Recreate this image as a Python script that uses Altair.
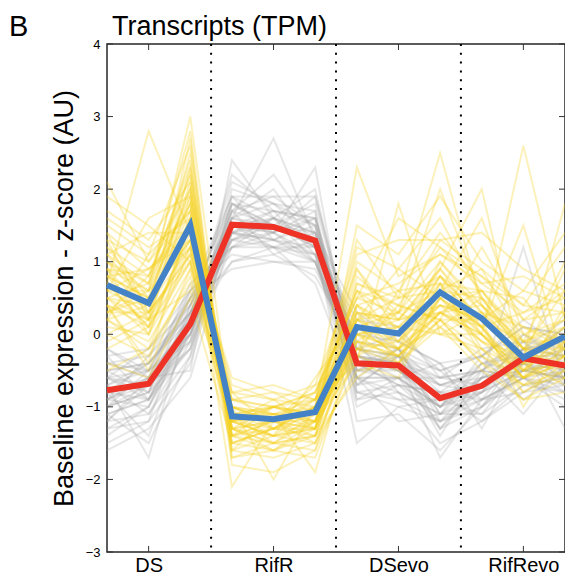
import altair as alt
import pandas as pd

# ---------------- data ----------------
groups = ["DS", "RifR", "DSevo", "RifRevo"]
samples_per_group = 3
group_centres = [1, 4, 7, 10]          # sample index under each group label
group_bounds = [2.5, 5.5, 8.5]         # dotted separators between groups
y_ticks = [-3, -2, -1, 0, 1, 2, 3, 4]

blue_mean = [0.68, 0.43, 1.50, -1.13, -1.17, -1.07, 0.10, 0.01, 0.58, 0.22, -0.32, -0.03]
red_mean = [-0.77, -0.68, 0.14, 1.51, 1.48, 1.29, -0.40, -0.43, -0.88, -0.71, -0.33, -0.43]

yellow_lines = [
    [0.9, 0.6, 1.8, -1.2, -1.3, -1.0, 0.2, -0.1, 0.5, 0.1, -0.5, 0.0],
    [0.4, 0.2, 1.3, -1.0, -1.1, -1.2, 0.3, 0.2, 0.8, 0.4, -0.2, -0.3],
    [1.2, 0.8, 2.2, -1.4, -1.3, -1.3, -0.1, -0.3, 0.3, -0.1, -0.6, -0.2],
    [0.6, 0.3, 1.1, -0.9, -1.0, -0.8, 0.5, 0.3, 1.0, 0.4, -0.1, 0.1],
    [1.5, 1.1, 2.6, -1.5, -1.6, -1.4, -0.2, -0.3, 0.2, -0.2, -0.7, -0.5],
    [0.2, -0.1, 0.9, -1.1, -1.2, -0.9, 0.6, 0.4, 1.2, 0.6, 0.0, 0.2],
    [2.1, 1.0, 1.7, -1.3, -1.0, -1.1, -0.2, -0.4, 0.1, -0.3, -0.6, -0.4],
    [0.7, 2.8, 1.4, -1.2, -1.4, -1.2, 0.0, -0.2, 0.3, 0.0, -0.6, -0.3],
    [0.3, 0.6, 3.0, -1.2, -1.0, -1.2, 0.1, -0.3, 0.5, 0.0, -0.5, -0.4],
    [0.0, -0.3, 0.8, -1.3, -1.5, -1.1, 1.0, 0.6, 1.4, 0.7, 0.3, 0.5],
    [1.0, 0.4, 1.6, -0.8, -0.9, -0.7, -0.3, 0.0, 0.4, 0.2, -0.4, -0.2],
    [0.5, 0.7, 1.9, -1.7, -1.5, -1.6, 0.2, 0.3, 0.6, 0.5, -0.3, 0.1],
    [1.3, 0.2, 1.2, -1.0, -1.2, -1.3, 0.4, -0.2, 0.7, 0.2, -0.1, -0.1],
    [-0.4, -0.6, 0.5, -1.5, -1.3, -1.0, 2.3, 0.8, 1.1, 0.8, 0.2, 0.6],
    [0.8, 0.5, 2.0, -1.1, -1.1, -0.9, -0.4, 1.8, 0.0, 0.3, -0.2, -0.2],
    [0.1, 0.0, 1.0, -1.4, -1.6, -1.3, 0.7, 0.5, 2.5, 0.4, -0.4, 0.0],
    [0.6, 0.9, 1.5, -2.1, -1.2, -1.4, 0.3, 0.2, 0.9, 2.0, -0.5, 0.3],
    [0.4, 0.1, 1.1, -1.0, -2.0, -1.0, 0.0, 0.1, 0.6, 0.0, 2.6, 0.2],
    [0.9, 0.3, 1.6, -1.2, -1.1, -1.9, 0.1, -0.1, 0.4, 0.3, -0.3, 1.8],
    [1.1, 0.7, 2.4, -1.6, -1.4, -1.5, -0.5, -0.4, 0.2, -0.4, -0.9, -0.8],
    [0.3, 0.5, 1.3, -0.7, -0.9, -1.0, 0.4, 0.6, 0.7, 0.6, -0.2, -0.6],
    [0.7, 0.1, 1.4, -1.3, -1.4, -0.6, 0.2, 0.0, 0.9, 0.1, -0.6, 0.4],
    [1.7, 1.3, 2.1, -1.1, -1.0, -1.2, -0.1, -0.2, 0.1, -0.5, -0.9, -0.6],
    [0.2, -0.2, 0.7, -0.9, -1.1, -1.1, 0.8, 0.3, 1.3, 0.9, 0.4, 0.3],
    [0.5, 0.4, 1.7, -1.3, -1.2, -1.2, -0.2, 0.4, 0.2, 0.2, -1.0, -0.1],
    [1.0, 0.6, 1.2, -0.6, -0.8, -0.9, 0.6, -0.1, 0.8, 0.0, -0.4, 0.1],
    [0.8, 0.2, 2.7, -1.8, -1.9, -1.6, -0.3, -0.5, 0.5, 0.1, -0.8, -0.4],
    [-0.2, 0.1, 1.0, -1.2, -1.0, -1.1, 1.2, 0.9, 1.6, 0.5, 0.1, -0.1],
    [0.6, 1.6, 1.9, -1.0, -1.3, -0.9, -0.1, -0.3, 0.3, 0.4, -0.2, -0.5],
    [1.4, 0.9, 1.4, -1.4, -1.5, -1.4, 0.3, 0.1, 0.0, -0.2, -0.5, 0.0],
    [0.4, -0.4, 1.6, -1.1, -1.0, -0.8, 0.5, 0.7, 1.1, 0.7, 0.8, 0.5],
    [0.9, 0.8, 2.3, -1.5, -1.3, -1.4, -0.6, -0.2, 0.4, -0.1, -0.4, -0.7],
    [0.3, 0.3, 1.1, -0.8, -1.3, -1.0, 0.2, 0.5, 0.6, 0.9, -0.1, 1.0],
    [1.1, 0.4, 1.8, -1.2, -0.9, -1.3, 0.0, -0.4, 0.7, -0.3, -0.7, -0.3],
    [0.5, 0.0, 1.5, -1.0, -1.2, -0.7, 0.9, 0.2, 0.3, 0.6, 0.5, -0.2],
    [0.8, 0.5, 2.0, -1.3, -1.6, -1.2, -0.4, -0.6, 0.6, 0.1, -0.6, -0.4],
    [1.6, 1.2, 1.6, -1.1, -1.3, -1.2, 0.4, 0.1, 0.3, 0.0, -0.6, -0.3],
    [0.0, 0.3, 2.1, -1.4, -1.2, -1.0, 0.6, 0.2, 0.9, 0.3, 0.1, -0.2],
    [1.9, 1.5, 1.0, -1.2, -1.1, -1.3, 0.1, -0.3, 0.2, -0.4, -0.7, -0.6],
    [-0.5, -0.2, 1.2, -1.2, -1.4, -1.3, 1.5, 1.1, 1.9, 1.0, 0.6, 0.4],
    [0.7, 0.4, 2.5, -1.6, -1.7, -1.5, 0.0, 0.2, 0.4, 0.2, -0.3, 0.0],
    [1.2, 0.5, 1.3, -0.9, -0.8, -1.1, -0.3, 0.6, 0.1, 0.5, -0.2, 0.6],
    [0.3, 0.8, 1.8, -1.3, -1.5, -1.4, 0.2, -0.2, 1.0, 0.3, -0.5, -0.1],
    [0.9, 0.0, 1.5, -1.0, -1.1, -1.2, 0.7, 0.4, 0.2, 1.2, 0.2, 0.3],
    [0.6, 0.6, 2.2, -1.4, -1.2, -1.3, 0.0, 0.1, 0.7, -0.2, -0.8, -0.5],
    [1.4, 0.3, 1.0, -0.9, -1.0, -0.9, 0.2, 0.9, 0.5, 0.6, -0.1, 0.2],
    [0.2, 1.1, 1.7, -1.5, -1.3, -1.1, 0.9, 0.0, 0.6, 0.1, 0.3, 0.7],
    [1.0, 0.7, 2.8, -1.7, -1.6, -1.7, -0.2, -0.1, 0.8, 0.2, -0.4, -0.3],
    [0.4, -0.5, 0.9, -0.8, -0.7, -0.9, 1.1, 1.3, 1.3, 1.4, 0.9, 0.6],
    [0.8, 0.9, 1.3, -1.1, -1.4, -1.0, 0.3, -0.4, 0.5, -0.1, -0.3, 0.9],
    [1.3, 1.0, 2.0, -1.3, -1.2, -1.5, -0.1, 0.3, 0.0, 0.0, -0.6, -0.1],
    [-0.1, 0.2, 0.6, -1.0, -1.2, -0.8, 0.5, 1.6, 1.2, 0.8, 0.4, 1.2],
    [0.5, 0.2, 1.9, -1.1, -1.5, -1.2, 0.1, 0.3, 2.0, 0.5, -0.2, 0.0],
    [1.1, 1.4, 1.4, -1.4, -1.0, -1.1, 0.0, -0.2, 0.3, 0.1, 1.5, -0.4],
    [0.7, 0.1, 2.3, -1.2, -1.4, -1.3, 0.4, 0.0, 0.6, 1.6, 0.0, -0.2],
    [0.2, 0.4, 1.2, -1.6, -1.1, -1.0, 1.3, 0.5, 0.8, 0.2, 0.6, 1.4],
]

gray_lines = [
    [-0.8, -0.7, 0.2, 1.6, 1.5, 1.3, -0.4, -0.5, -0.9, -0.7, -0.3, -0.4],
    [-0.5, -0.4, 0.4, 1.3, 1.2, 1.1, -0.6, -0.6, -1.0, -0.8, -0.5, -0.6],
    [-1.1, -0.9, -0.2, 1.8, 1.7, 1.6, -0.2, -0.3, -0.7, -0.5, -0.1, -0.2],
    [-0.6, -0.8, 0.5, 1.4, 1.6, 1.2, -0.5, -0.2, -1.1, -0.9, -0.6, -0.5],
    [-1.0, -0.5, -0.1, 2.0, 1.8, 1.7, -0.7, -0.6, -1.3, -1.0, -0.6, -0.8],
    [-0.3, -0.2, 0.6, 1.1, 1.0, 0.9, -0.3, -0.4, -0.6, -0.5, -0.2, -0.3],
    [-1.4, -1.0, 0.0, 1.7, 2.2, 1.4, -0.1, -0.2, -0.5, -0.3, 0.1, 0.0],
    [-0.7, -1.7, 0.3, 1.5, 1.3, 1.6, -0.4, -0.7, -1.0, -0.6, -0.2, -0.3],
    [-0.9, -0.6, -0.5, 2.4, 1.6, 1.0, -0.3, -0.5, -0.8, -0.7, -0.4, -0.5],
    [-0.4, -0.3, 0.3, 1.2, 1.4, 2.3, -0.8, -0.7, -1.2, -1.0, -0.5, -0.6],
    [-1.2, -1.1, -0.3, 1.9, 1.9, 1.5, -0.5, -0.3, -0.8, -0.4, -0.2, -0.1],
    [-0.6, -0.5, 0.1, 1.0, 1.1, 0.8, -0.2, 0.0, -0.5, -0.3, 0.2, -0.2],
    [-0.8, -0.9, 0.4, 1.6, 2.7, 1.3, -0.9, -0.8, -1.5, -1.2, -0.8, -0.7],
    [-1.0, -0.8, -0.2, 1.4, 1.3, 1.2, -1.5, -1.0, -0.9, -0.6, -0.4, -0.8],
    [-0.2, -0.6, 0.7, 1.2, 1.2, 1.0, -0.6, -1.2, -1.1, -0.8, -0.3, -0.5],
    [-0.7, -0.4, 0.2, 1.8, 1.5, 1.8, -0.3, -0.4, -1.7, -0.9, -0.6, -0.2],
    [-1.3, -1.2, -0.4, 1.5, 1.4, 1.1, 0.0, -0.1, -0.4, -1.3, -0.3, -0.6],
    [-0.9, -0.7, 0.0, 1.3, 1.6, 1.4, -0.6, -0.6, -1.0, -0.5, -1.1, -0.4],
    [-0.5, -0.8, 0.3, 1.7, 1.1, 1.3, -0.2, -0.5, -0.7, -0.6, 1.2, -0.7],
    [-1.1, -0.9, 0.1, 1.6, 1.8, 1.5, -0.4, -0.2, -1.2, -0.8, -0.2, -1.3],
    [-0.4, -0.5, 0.5, 0.9, 1.0, 1.0, -0.5, -0.6, -0.6, -0.7, -0.4, 0.1],
    [-0.8, -0.6, 0.2, 2.2, 1.7, 1.6, -0.7, -0.3, -1.1, -0.4, -0.5, -0.4],
    [-1.6, -1.3, -0.6, 1.4, 1.5, 1.2, 0.2, 0.1, -0.6, -0.5, 0.0, -0.3],
    [-0.6, -0.2, 0.4, 1.5, 1.2, 0.7, -0.8, -0.9, -0.9, -1.1, -0.7, -0.6],
    [-0.9, -1.0, 0.1, 1.3, 1.4, 1.9, -0.2, -0.4, -1.3, -0.7, -0.1, -0.5],
    [-0.7, -0.5, 0.6, 1.9, 1.3, 1.1, -1.0, -0.7, -0.8, -0.9, -0.6, -0.9],
    [-1.0, -0.7, -0.1, 1.2, 1.6, 1.4, -0.3, -0.6, -1.0, -0.3, 0.1, 0.0],
    [-0.3, -0.9, 0.2, 1.7, 1.5, 1.3, -0.6, -0.2, -0.7, -0.8, -0.5, -0.4],
    [-1.2, -0.6, 0.0, 1.6, 2.0, 1.2, -0.1, -0.8, -1.1, -0.6, -0.4, -0.6],
    [-0.5, -0.4, 0.3, 1.4, 1.3, 1.5, -0.4, -0.3, -0.5, -1.0, -0.2, -0.1],
    [-0.8, -1.4, 0.1, 1.5, 1.6, 2.0, -0.5, -0.5, -1.0, -0.7, -0.3, -0.3],
    [-0.9, -0.6, 0.5, 1.8, 1.4, 1.0, -0.3, -0.4, -1.4, -0.5, -0.6, -0.7],
    [-1.3, -1.0, 0.3, 1.5, 1.7, 1.5, -0.6, -0.9, -1.2, -0.6, -0.5, -0.3],
    [-0.2, -0.5, 0.0, 1.4, 1.2, 1.4, -0.9, -0.6, -0.4, -0.9, -0.8, -0.5],
    [-1.5, -1.2, 0.4, 1.9, 1.6, 1.3, -0.2, -0.3, -0.6, -0.2, -0.1, -0.7],
    [-0.6, -0.7, -0.2, 1.6, 1.4, 1.7, -1.2, -1.1, -1.6, -1.0, -0.4, -0.2],
    [-0.9, -0.3, 0.5, 1.3, 1.5, 1.2, 0.1, -0.2, -1.0, -0.4, -0.3, 0.1],
    [-0.7, -1.1, -0.1, 1.7, 1.9, 1.9, -0.4, -0.7, -0.8, -1.2, -0.7, -0.8],
    [-1.0, -0.8, 0.6, 1.2, 1.3, 1.0, -0.7, -0.3, -1.3, -0.6, -0.5, -0.6],
    [-0.4, -0.6, 0.2, 2.1, 1.8, 1.3, -0.3, -0.5, -0.9, -0.8, 0.0, -0.4],
    [-1.1, -1.5, -0.3, 1.5, 1.4, 1.6, -0.5, -0.4, -0.7, -0.5, -0.6, -1.0],
    [-0.8, -0.4, 0.3, 1.0, 1.2, 1.2, -0.8, -1.0, -1.2, -0.9, -0.2, 0.2],
    [-0.6, -0.9, 0.0, 1.8, 1.5, 1.4, 0.3, -0.1, -0.4, -0.3, -0.9, -0.5],
    [-1.2, -0.7, 0.1, 1.4, 1.7, 1.1, -0.6, -0.8, -1.1, -1.1, -0.4, -0.7],
]

# ---------------- tables ----------------
def long_table(lines, prefix):
    rows = []
    for i, line in enumerate(lines):
        for j, v in enumerate(line):
            rows.append({"line": f"{prefix}{i}", "x": j, "value": v})
    return pd.DataFrame(rows)

gray_df = long_table(gray_lines, "g")
yellow_df = long_table(yellow_lines, "y")
blue_df = long_table([blue_mean], "b")
red_df = long_table([red_mean], "r")

label_expr = " : ".join(
    f"datum.value == {c} ? '{g}'" for c, g in zip(group_centres, groups)
) + " : ''"

FONT = "Liberation Sans"
PAD_L, PAD_T, PAD_R, PAD_B = 99, 36, 0, 22
W, H = 458, 508   # svg = 557 x 566, fits the page without shrinking

X = alt.X(
    "x:Q",
    scale=alt.Scale(domain=[0, 11], nice=False, zero=False),
    axis=alt.Axis(
        values=group_centres, labelExpr=label_expr, ticks=False, grid=False,
        domain=False, labelFont=FONT, labelFontSize=20, labelColor="black",
        labelPadding=3, title=None,
    ),
)
Y = alt.Y(
    "value:Q",
    scale=alt.Scale(domain=[-3, 4], nice=False, zero=False),
    axis=alt.Axis(
        values=y_ticks, format="d", ticks=False, grid=False, domain=False,
        labelFont=FONT, labelFontSize=13, labelColor="black", labelPadding=7,
        title="Baseline expression - z-score (AU)", titleFont=FONT,
        titleFontSize=27, titleFontWeight="normal", titleColor="black",
        titleAngle=270, titleBaseline="alphabetic", titleX=-35, titleY=H / 2,
        titleAlign="center",
    ),
)

gray = alt.Chart(gray_df).mark_line(color="#A3A3A3", opacity=0.26, strokeWidth=2).encode(
    x=X, y=Y, detail="line:N")
yellow = alt.Chart(yellow_df).mark_line(color="#F6D21F", opacity=0.3, strokeWidth=2).encode(
    x=X, y=Y, detail="line:N")

sep_df = pd.DataFrame({"x": group_bounds})
seps = alt.Chart(sep_df).mark_rule(color="black", strokeWidth=2, strokeDash=[2, 6.8]).encode(x=X)

red = alt.Chart(red_df).mark_line(color="#EE3226", strokeWidth=6).encode(x=X, y=Y)
blue = alt.Chart(blue_df).mark_line(color="#4382C6", strokeWidth=6).encode(x=X, y=Y)

ytick_df = pd.DataFrame({"value": y_ticks})
xtick_df = pd.DataFrame({"x": group_centres})
tick_style = dict(color="#333333", strokeWidth=1)
tick_left = alt.Chart(ytick_df).mark_rule(**tick_style).encode(y=Y, x=alt.value(0), x2=alt.value(6))
tick_right = alt.Chart(ytick_df).mark_rule(**tick_style).encode(y=Y, x=alt.value(W), x2=alt.value(W - 6))
tick_bottom = alt.Chart(xtick_df).mark_rule(**tick_style).encode(x=X, y=alt.value(H), y2=alt.value(H - 6))
tick_top = alt.Chart(xtick_df).mark_rule(**tick_style).encode(x=X, y=alt.value(0), y2=alt.value(6))

title_df = pd.DataFrame({"t": ["Transcripts (TPM)"]})
title = alt.Chart(title_df).mark_text(
    align="left", baseline="alphabetic", font=FONT, fontSize=27, color="black"
).encode(text="t:N", x=alt.value(5), y=alt.value(-9))

panel_df = pd.DataFrame({"t": ["B"]})
panel = alt.Chart(panel_df).mark_text(
    align="left", baseline="alphabetic", font=FONT, fontSize=29, color="black"
).encode(text="t:N", x=alt.value(-98), y=alt.value(-8))

chart = alt.layer(
    gray, yellow, seps, red, blue,
    tick_left, tick_right, tick_bottom, tick_top, title, panel,
).properties(
    width=W, height=H,
    autosize=alt.AutoSizeParams(type="none"),
    padding={"left": PAD_L, "top": PAD_T, "right": PAD_R, "bottom": PAD_B},
).configure_view(
    stroke="#262626", strokeWidth=1.5
)

chart.save("out.html", embed_options={"renderer": "svg", "actions": False})
